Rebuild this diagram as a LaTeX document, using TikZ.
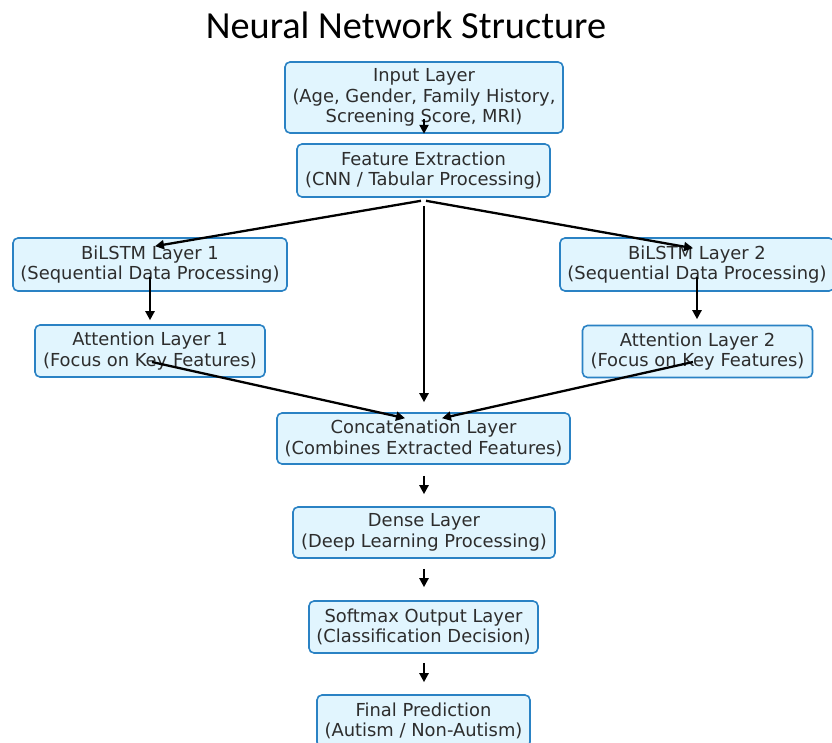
\documentclass[tikz,border=0pt]{standalone}
\usepackage{fontspec}
\setmainfont{DejaVu Sans}
\newfontfamily\titlefont{Carlito}
\usetikzlibrary{arrows.meta,calc}
\definecolor{boxfill}{RGB}{225,245,254}
\definecolor{boxline}{RGB}{42,130,196}
\definecolor{txt}{RGB}{45,45,45}
\begin{document}
\begin{tikzpicture}[x=1pt,y=-1pt,
  layer/.style={draw=boxline, fill=boxfill, line width=1.6pt, rounded corners=5pt,
    inner sep=0pt, align=center, text=txt, font=\fontsize{17.9}{20.5}\selectfont},
  arr/.style={line width=2.3pt, -{Triangle[length=9pt,width=9pt]}}]
\useasboundingbox (0,0) rectangle (832,743);
\fill[white] (0,0) rectangle (832,743);
\node[anchor=base, font=\titlefont\fontsize{38.3}{40}\selectfont] (title) at (406,39) {Neural Network Structure};
\node[layer, minimum width=278pt, minimum height=71pt] (in) at (424,97.5) {Input Layer\\(Age, Gender, Family History,\\Screening Score, MRI)};
\node[layer, minimum width=253pt, minimum height=53pt] (fe) at (423.5,170.5) {Feature Extraction\\(CNN / Tabular Processing)};
\node[layer, minimum width=274pt, minimum height=53pt] (bil1) at (150,264.5) {BiLSTM Layer 1\\(Sequential Data Processing)};
\node[layer, minimum width=274pt, minimum height=53pt] (bil2) at (697,264.5) {BiLSTM Layer 2\\(Sequential Data Processing)};
\node[layer, minimum width=230pt, minimum height=52pt] (att1) at (150,351) {Attention Layer 1\\(Focus on Key Features)};
\node[layer, minimum width=230pt, minimum height=52pt] (att2) at (697.5,351.5) {Attention Layer 2\\(Focus on Key Features)};
\node[layer, minimum width=293pt, minimum height=51pt] (cat) at (423.5,438.5) {Concatenation Layer\\(Combines Extracted Features)};
\node[layer, minimum width=262pt, minimum height=51pt] (dense) at (424,532.5) {Dense Layer\\(Deep Learning Processing)};
\node[layer, minimum width=229pt, minimum height=52pt] (soft) at (423.5,627) {Softmax Output Layer\\(Classification Decision)};
\node[layer, minimum width=213pt, minimum height=52pt] (final) at (423.5,721) {Final Prediction\\(Autism / Non-Autism)};
\draw[arr] ($(in.south)+(0,-15)$) -- (in.south);
\draw[arr] ($(fe.south)+(-2.5,3)$) -- ($(bil1.north)+(5,9)$);
\draw[arr] ($(fe.south)+(2.5,3)$) -- ($(bil2.north)+(-4,11)$);
\draw[arr] ($(fe.south)+(0.5,8)$) -- ($(cat.north)+(0.5,-10)$);
\draw[arr] ($(bil1.center)+(0,12.5)$) -- ($(att1.north)+(0,-4)$);
\draw[arr] ($(bil2.center)+(0,12.5)$) -- ($(att2.north)+(-0.5,-5.5)$);
\draw[arr] ($(att1.center)+(2,11)$) -- ($(cat.north)+(-18.5,6)$);
\draw[arr] ($(att2.center)+(-4.5,10.5)$) -- ($(cat.north)+(18.5,6)$);
\draw[arr] ($(cat.south)+(0.5,11)$) -- ($(dense.north)+(0,-12)$);
\draw[arr] ($(dense.south)+(0,10)$) -- ($(soft.north)+(0.5,-13)$);
\draw[arr] ($(soft.south)+(0.5,9)$) -- ($(final.north)+(0.5,-12)$);
\end{tikzpicture}
\end{document}
